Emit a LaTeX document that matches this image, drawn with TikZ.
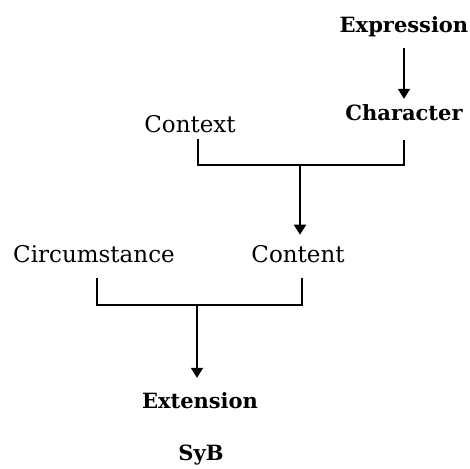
\documentclass[tikz,border=0pt]{standalone}
\usepackage{fontspec}
\setmainfont{DejaVu Serif}
\usetikzlibrary{arrows.meta}
\begin{document}
\begin{tikzpicture}[x=1pt,y=-1pt,
  lbl/.style={inner sep=0pt,anchor=base,font=\fontsize{23}{27}\selectfont},
  blbl/.style={lbl,font=\fontsize{21}{25}\selectfont\bfseries},
  line/.style={line width=1.8pt},
  arr/.style={line width=1.8pt,-{Triangle[width=12pt,length=10pt]}}]
\useasboundingbox (0,0) rectangle (470,468);
\node[blbl] (expr) at (404,33) {Expression};
\node[blbl] (char) at (404,120) {Character};
\node[lbl] (ctx) at (190,132) {Context};
\node[lbl] (circ) at (94,262) {Circumstance};
\node[lbl] (cont) at (298,262) {Content};
\node[blbl] (ext) at (200,408) {Extension};
\node[blbl] (syb) at (201,460) {SyB};
\coordinate (j1) at (300,165);
\coordinate (j2) at (197,305);
\draw[arr,shorten <=10pt,shorten >=5pt] (expr.south) -- (char.north);
\draw[line] ([xshift=8pt,yshift=-6pt]ctx.south) |- (j1) -| ([yshift=-20pt]char.south);
\draw[arr,shorten >=10pt] (j1) -- (j1 |- cont.north);
\draw[line] ([xshift=3pt,yshift=-15pt]circ.south) |- (j2) -| ([xshift=4pt,yshift=-15pt]cont.south);
\draw[arr,shorten >=14pt] (j2) -- (j2 |- ext.north);
\end{tikzpicture}
\end{document}
